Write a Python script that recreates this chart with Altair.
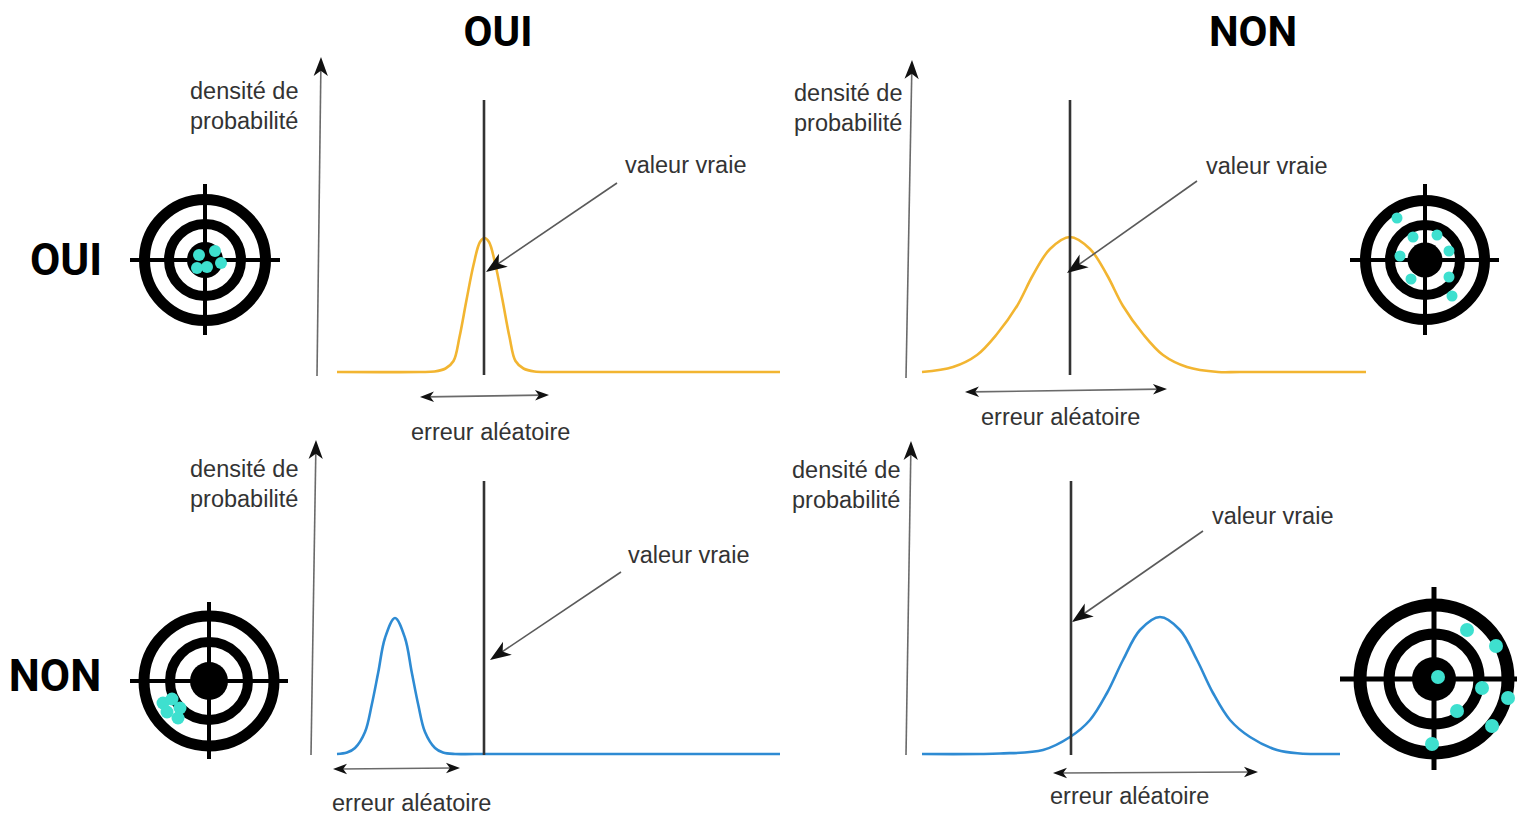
import math
import altair as alt
import pandas as pd

# ---------------- data (pixel space) ----------------
col_titles = ["OUI", "NON"]
col_title_x = [498, 1253]
col_title_y = [33, 33]
row_titles = ["OUI", "NON"]
row_title_x = [66, 55]
row_title_y = [262, 678]

panels = ["tl", "tr", "bl", "br"]
curve_colors = ["#F2B531", "#F2B531", "#2E8BD3", "#2E8BD3"]

curve_tl_x = [337, 419.5, 434.5, 445.5, 453.5, 459.5, 466.5, 473.5, 480, 484.5, 489, 495.5, 502.5, 509.5, 515.5, 523.5, 534.5, 549.5, 570, 780]
curve_tl_y = [372, 372, 371.5, 368.5, 361, 337, 300, 265, 242, 238, 242, 265, 300, 337, 361, 368.5, 371.5, 372, 372, 372]
curve_tr_x = [922, 953, 977, 997, 1017, 1033, 1050, 1070, 1090, 1107, 1123, 1143, 1163, 1187, 1218, 1240, 1366]
curve_tr_y = [372, 367, 355, 334, 306, 275, 249, 237, 249, 275, 306, 334, 355, 367, 372, 372, 372]
curve_bl_x = [337, 347, 355, 365, 371.7, 378.3, 385, 395, 405, 411.7, 418.3, 425, 435, 443, 455, 475, 780]
curve_bl_y = [754, 752.5, 748, 732, 705, 672, 638, 618, 638, 672, 705, 732, 748, 752.5, 754, 754, 754]
curve_br_x = [922, 980, 1000, 1043, 1070, 1090, 1107, 1123, 1140, 1160, 1180, 1197, 1213, 1230, 1250, 1277, 1300, 1320, 1340]
curve_br_y = [754, 754, 753.5, 750, 737, 720, 693, 660, 630, 617, 630, 660, 693, 720, 737, 750, 753.5, 754, 754]

# vertical "valeur vraie" lines
tv_x = [484, 1070, 484, 1071]
tv_y1 = [100, 100, 481, 481]
tv_y2 = [375, 375, 755, 755]

# y axes (bottom -> tip)
axis_x1 = [317, 906, 311, 906]
axis_y1 = [376, 378, 755, 755]
axis_x2 = [321, 912, 316, 911]
axis_y2 = [57, 60, 440, 441]

# "valeur vraie" pointers (start -> tip)
vv_x1 = [617, 1197, 621, 1203]
vv_y1 = [183, 181, 572, 531]
vv_x2 = [486, 1067, 490, 1072]
vv_y2 = [272, 273, 660, 622]

# "erreur aléatoire" double arrows
err_x1 = [420, 965, 333, 1053]
err_y1 = [397, 392, 769, 773]
err_x2 = [549, 1167, 460, 1258]
err_y2 = [395, 389, 768, 772]

# labels
density_lines = ["densité de", "probabilité"]
density_x = [190, 794, 190, 792]
density_y = [92, 94, 470, 471]
vv_label = "valeur vraie"
vv_label_x = [625, 1206, 628, 1212]
vv_label_y = [166, 167, 556, 517]
err_label = "erreur aléatoire"
err_label_x = [411, 981, 332, 1050]
err_label_y = [433, 418, 804, 797]

# targets
tgt_cx = [205, 1425, 209, 1434]
tgt_cy = [260, 260, 681, 679]
outer_r = [60.5, 59.5, 65, 74]
outer_w = [11, 11, 11, 13]
inner_r = [36, 35, 39, 45]
inner_w = [10, 10, 10, 11]
disc_r = [18, 17.5, 19, 22]
cross_x1 = [130, 1350, 130, 1340]
cross_x2 = [280, 1499, 288, 1517]
cross_y1 = [184, 184, 602, 587]
cross_y2 = [335, 335, 759, 770]
cross_w = [4, 4, 4, 5]

dots_x = [[199, 215, 221, 207, 197],
          [1397, 1413, 1437, 1449, 1400, 1411, 1449, 1452],
          [163, 172, 180, 167, 178],
          [1467, 1496, 1438, 1482, 1508, 1457, 1492, 1432]]
dots_y = [[255, 251, 263, 267, 268],
          [218, 237, 235, 251, 256, 279, 277, 296],
          [703, 699, 708, 712, 718],
          [630, 646, 677, 688, 698, 711, 726, 744]]
dots_r = [6, 5.5, 6.5, 7]
dot_color = "#3EE0CF"

# ---------------- tables ----------------
curves = []
for p, c, xs_, ys_ in zip(panels, curve_colors,
                          [curve_tl_x, curve_tr_x, curve_bl_x, curve_br_x],
                          [curve_tl_y, curve_tr_y, curve_bl_y, curve_br_y]):
    for i, (a, b) in enumerate(zip(xs_, ys_)):
        curves.append({"panel": p, "i": i, "x": a, "y": b, "col": c})
curves = pd.DataFrame(curves)

rules = []
heads = []
ARROW = "M0,-1L0.75,1L0,0.45L-0.75,1Z"


def add_arrow(x1, y1, x2, y2, L, col, w, both=False):
    dx, dy = x2 - x1, y2 - y1
    n = math.hypot(dx, dy)
    ux, uy = dx / n, dy / n
    sx, sy, ex, ey = x1, y1, x2 - ux * L * 0.5, y2 - uy * L * 0.5
    heads.append({"x": x2 - ux * L / 2, "y": y2 - uy * L / 2,
                  "ang": math.degrees(math.atan2(ux, -uy)) % 360, "s": L * L})
    if both:
        sx, sy = x1 + ux * L * 0.5, y1 + uy * L * 0.5
        heads.append({"x": x1 + ux * L / 2, "y": y1 + uy * L / 2,
                      "ang": math.degrees(math.atan2(-ux, uy)) % 360, "s": L * L})
    rules.append({"x": sx, "y": sy, "x2": ex, "y2": ey, "col": col, "w": w})


for k in range(4):
    rules.append({"x": tv_x[k], "y": tv_y1[k], "x2": tv_x[k], "y2": tv_y2[k], "col": "#333333", "w": 2.6})
    add_arrow(axis_x1[k], axis_y1[k], axis_x2[k], axis_y2[k], 19, "#6a6a6a", 1.6)
    add_arrow(vv_x1[k], vv_y1[k], vv_x2[k], vv_y2[k], 21, "#5a5a5a", 1.6)
    add_arrow(err_x1[k], err_y1[k], err_x2[k], err_y2[k], 14, "#6a6a6a", 1.6, both=True)
    rules.append({"x": cross_x1[k], "y": tgt_cy[k], "x2": cross_x2[k], "y2": tgt_cy[k], "col": "#000000", "w": cross_w[k]})
    rules.append({"x": tgt_cx[k], "y": cross_y1[k], "x2": tgt_cx[k], "y2": cross_y2[k], "col": "#000000", "w": cross_w[k]})
rules = pd.DataFrame(rules)
heads = pd.DataFrame(heads)

texts = []
for k in range(4):
    texts.append({"x": density_x[k], "y": density_y[k], "t": density_lines[0]})
    texts.append({"x": density_x[k], "y": density_y[k] + 30, "t": density_lines[1]})
    texts.append({"x": vv_label_x[k], "y": vv_label_y[k], "t": vv_label})
    texts.append({"x": err_label_x[k], "y": err_label_y[k], "t": err_label})
texts = pd.DataFrame(texts)

col_title_df = pd.DataFrame({"x": col_title_x, "y": col_title_y, "t": col_titles})
row_title_df = pd.DataFrame({"x": row_title_x, "y": row_title_y, "t": row_titles})

# Vega symbol size: radius = sqrt(size) / 2
rings = []
discs = []
dots = []
for k in range(4):
    rings.append({"x": tgt_cx[k], "y": tgt_cy[k], "s": (2 * outer_r[k]) ** 2, "w": outer_w[k]})
    rings.append({"x": tgt_cx[k], "y": tgt_cy[k], "s": (2 * inner_r[k]) ** 2, "w": inner_w[k]})
    discs.append({"x": tgt_cx[k], "y": tgt_cy[k], "s": (2 * disc_r[k]) ** 2})
    for a, b in zip(dots_x[k], dots_y[k]):
        dots.append({"x": a, "y": b, "s": (2 * dots_r[k]) ** 2})
rings = pd.DataFrame(rings)
discs = pd.DataFrame(discs)
dots = pd.DataFrame(dots)

# ---------------- chart ----------------
XS = alt.Scale(domain=[8, 1517], nice=False, zero=False)
YS = alt.Scale(domain=[8, 818], reverse=True, nice=False, zero=False)


def X(f="x"):
    return alt.X(f + ":Q", scale=XS, axis=None)


def Y(f="y"):
    return alt.Y(f + ":Q", scale=YS, axis=None)


curve_layer = alt.Chart(curves).mark_line(strokeWidth=2.6, interpolate="catmull-rom").encode(
    x=X(), y=Y(), detail="panel:N", order="i:Q", color=alt.Color("col:N", scale=None))

rule_layer = alt.Chart(rules).mark_rule().encode(
    x=X(), y=Y(), x2="x2:Q", y2="y2:Q",
    color=alt.Color("col:N", scale=None), strokeWidth=alt.StrokeWidth("w:Q", scale=None))

head_layer = alt.Chart(heads).mark_point(shape=ARROW, filled=True, opacity=1, color="#111111", strokeWidth=0).encode(
    x=X(), y=Y(), angle=alt.Angle("ang:Q", scale=None), size=alt.Size("s:Q", scale=None))

text_layer = alt.Chart(texts).mark_text(align="left", baseline="middle", font="Liberation Sans",
                                        fontSize=23.5, color="#333333").encode(x=X(), y=Y(), text="t:N")

col_title_layer = alt.Chart(col_title_df).mark_text(align="center", baseline="middle", font="Roboto",
                                                    fontWeight="bold", fontSize=42, color="#000000").encode(
    x=X(), y=Y(), text="t:N")

row_title_layer = alt.Chart(row_title_df).mark_text(align="center", baseline="middle", font="Roboto",
                                                    fontWeight="bold", fontSize=44, color="#000000").encode(
    x=X(), y=Y(), text="t:N")

ring_layer = alt.Chart(rings).mark_point(shape="circle", filled=False, opacity=1, color="#000000").encode(
    x=X(), y=Y(), size=alt.Size("s:Q", scale=None), strokeWidth=alt.StrokeWidth("w:Q", scale=None))

disc_layer = alt.Chart(discs).mark_point(shape="circle", filled=True, opacity=1, color="#000000", strokeWidth=0).encode(
    x=X(), y=Y(), size=alt.Size("s:Q", scale=None))

dot_layer = alt.Chart(dots).mark_point(shape="circle", filled=True, opacity=1, color=dot_color, strokeWidth=0).encode(
    x=X(), y=Y(), size=alt.Size("s:Q", scale=None))

chart = alt.layer(curve_layer, rule_layer, head_layer, text_layer, col_title_layer, row_title_layer,
                  ring_layer, disc_layer, dot_layer).properties(
    width=1509, height=810, padding=0, autosize=alt.AutoSizeParams(type="none"),
    background="#ffffff").configure_view(stroke=None)

chart.save("out.html", embed_options={"renderer": "svg", "actions": False})
